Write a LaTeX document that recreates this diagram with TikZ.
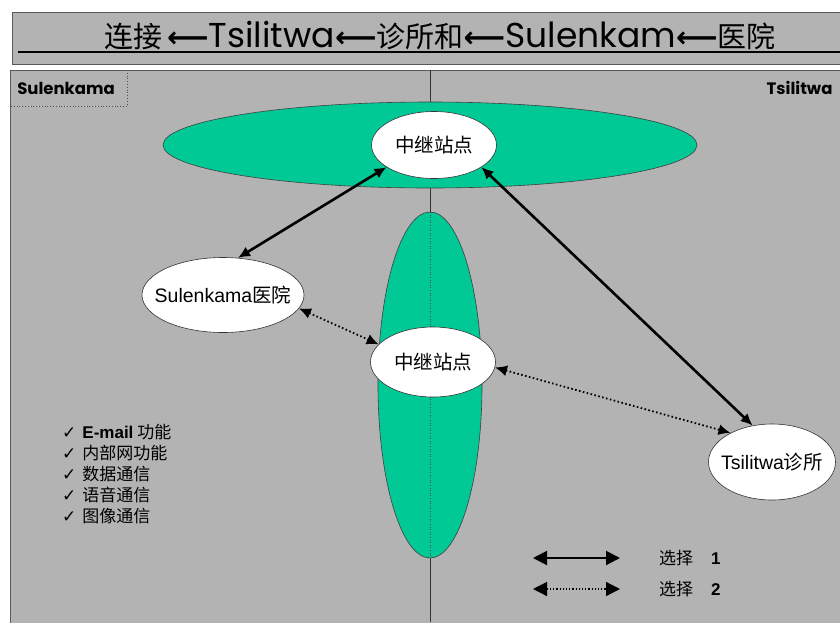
\documentclass[tikz,border=0pt]{standalone}
\usepackage{fontspec}
\setmainfont{Noto Sans CJK SC}
\newfontfamily\latinsans{Liberation Sans}
\newfontfamily\headfont{Poppins}
\newfontfamily\symfont{DejaVu Sans}
\usepackage{tikz}
\usetikzlibrary{positioning,shapes.geometric,arrows.meta}
\usepackage{xcolor}
\definecolor{panelgray}{RGB}{179,179,179}
\definecolor{bandgreen}{RGB}{0,201,150}

\begin{document}
\begin{tikzpicture}[
    x=1pt, y=-1pt,
    frame/.style={fill=panelgray, draw=black!65, line width=1pt},
    band/.style={fill=bandgreen, draw=black!75, line width=0.6pt},
    site/.style={ellipse, fill=white, draw=black!80, line width=0.6pt, inner xsep=-18pt, inner ysep=0pt, font=\fontsize{19.5}{21}\selectfont},
    link/.style={{Latex[length=12pt,width=11pt]}-{Latex[length=12pt,width=11pt]}, line width=2.6pt},
    alt/.style={{Latex[length=12pt,width=11pt]}-{Latex[length=12pt,width=11pt]}, line width=1.8pt, dash pattern=on 1.6pt off 2.4pt},
    key/.style={{Triangle[length=14pt,width=14pt]}-{Triangle[length=14pt,width=14pt]}, line width=2pt},
    txt/.style={font=\fontsize{17}{19}\selectfont, anchor=west, inner sep=0pt},
]
\useasboundingbox (0,0) rectangle (840,622);
\fill[white] (0,0) rectangle (840,622);

\draw[frame] (12,12) rectangle (850,64);
\draw[line width=2pt] (18,52) -- (850,52);
\node[anchor=base, inner sep=0pt, font=\fontsize{29}{31}\selectfont] (title) at (440,47)
  {连接\,{\symfont\bfseries ⟵}{\headfont\fontsize{34.5}{35}\selectfont Tsilitwa}{\symfont\bfseries ⟵}诊所和{\symfont\bfseries ⟵}{\headfont\fontsize{34.5}{35}\selectfont Sulenkam}{\symfont\bfseries ⟵}医院};

\draw[frame] (10,70) rectangle (850,632);
\draw[dotted, black!70, line width=0.8pt] (127,70) -- (127,106) -- (10,106);
\node[font=\headfont\bfseries\fontsize{16.5}{18}\selectfont] (westSide) at (66,88) {Sulenkama};
\node[font=\headfont\bfseries\fontsize{16.5}{18}\selectfont, anchor=east] (eastSide) at (836,88) {Tsilitwa};

\draw[black!80, line width=0.8pt] (430,70) -- (430,622);
\draw[band] (430,145) ellipse [x radius=267pt, y radius=43pt];
\draw[band] (430,385) ellipse [x radius=52pt, y radius=173pt];
\draw[black!70, dotted, line width=0.6pt] (430,212) -- (430,558);

\node[site, minimum width=125pt, minimum height=67pt] (relayTop) at (434,145) {中继站点};
\node[site, minimum width=162pt, minimum height=75pt] (hospital) at (223,295) {{\latinsans Sulenkama}医院};
\node[site, minimum width=125pt, minimum height=70pt] (relayMid) at (433,362) {中继站点};
\node[site, minimum width=127pt, minimum height=76pt] (clinic) at (772,462) {{\latinsans Tsilitwa}诊所};

\draw[link] (relayTop.205) -- (hospital.68);
\draw[link] (relayTop.335) -- (clinic.118);
\draw[alt] (hospital.350) -- (relayMid.162);
\draw[alt] (relayMid.355) -- (clinic.145);

\foreach \item [count=\i] in {{\latinsans\bfseries E-mail} 功能, 内部网功能, 数据通信, 语音通信, 图像通信} {
  \node[txt] (check\i) at (62,432+21*\i-21) {{\symfont ✓}\hspace{6pt}\item};
}

\coordinate (keyOneA) at (533,558);
\coordinate (keyOneB) at (620,558);
\coordinate (keyTwoA) at (533,589);
\coordinate (keyTwoB) at (620,589);
\draw[key] (keyOneA) -- (keyOneB);
\draw[key, line width=1.2pt, dotted] (keyTwoA) -- (keyTwoB);
\node[txt] (keyOne) at (659,558) {选择\hspace{18pt}{\latinsans\bfseries 1}};
\node[txt] (keyTwo) at (659,589) {选择\hspace{18pt}{\latinsans\bfseries 2}};
\end{tikzpicture}
\end{document}
